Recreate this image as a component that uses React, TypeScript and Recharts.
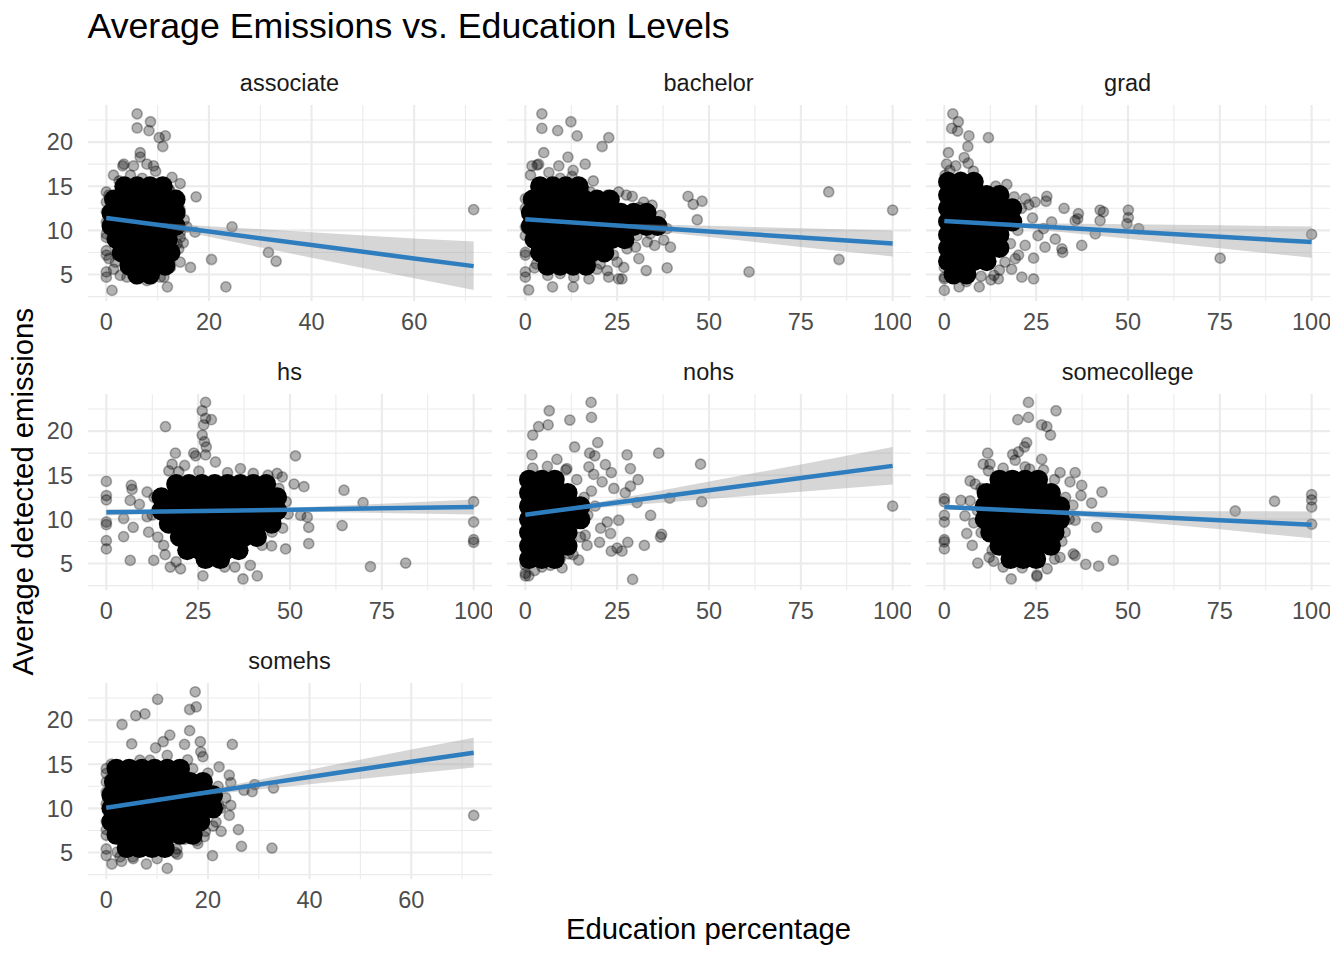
// Faceted scatter: emissions vs education share
import React from "react";
import { ComposedChart, Scatter, Line, Area, XAxis, YAxis, CartesianGrid } from "recharts";

type Pt = [number, number];
type FitRow = [number, number, number, number]; // x, fit, lower, upper

// ---- associate ----
const associatePts: Pt[] = [
  [6.0, 23.2], [8.6, 22.3], [6.0, 21.6], [8.3, 21.3], [10.3, 20.5], [11.5, 20.7], [11.0, 19.5], [6.6, 18.8],
  [6.6, 18.3], [3.4, 17.5], [3.2, 17.3], [5.3, 17.3], [7.9, 17.5], [9.2, 17.3], [9.6, 16.7], [1.4, 16.25],
  [4.7, 16.25], [7.0, 15.9], [10.8, 15.4], [14.4, 15.3], [12.3, 14.6], [17.5, 13.8], [14.0, 13.6], [14.1, 12.8],
  [0, 14.35], [0, 13.2], [0, 12.1], [15.7, 10.4], [17.3, 9.8], [24.5, 10.4], [14.4, 9.2], [14.1, 7.9],
  [0, 9.6], [0, 9.2], [0, 7.7], [0, 7.2], [0.5, 6.8], [2.1, 7.2], [0, 5.3], [0, 4.7], [1.4, 5.6], [1.1, 3.2],
  [4.0, 4.7], [5.7, 4.5], [8.9, 4.5], [10.5, 4.7], [11.9, 3.6], [12.5, 5.8], [14.4, 6.4], [16.4, 5.8],
  [20.5, 6.7], [31.6, 7.5], [33.1, 6.5], [23.3, 3.6], [71.6, 12.35],
  [12.2, 14.55], [13.8, 14.0], [14.4, 12.3], [13.8, 11.3], [13.1, 10.6], [14.4, 9.8], [13.8, 8.5], [12.5, 7.5],
  [11.5, 6.4], [2.1, 7.5], [1.1, 9.05], [0, 10.95], [0.5, 14.0], [4.0, 14.7], [9.9, 15.3], [1.75, 6.4],
  [2.7, 4.9], [7.9, 4.3], [11.2, 4.7], [2.5, 15.6], [12.8, 16.0], [15.2, 11.2], [15.0, 8.6], [0.4, 11.6],
];
const associateCore: Pt[] = [
  [3.5, 15], [6, 15], [8.5, 15], [11, 15],
  [1.5, 13.5], [4, 13.5], [6.5, 13.5], [9, 13.5], [11.5, 13.5], [13.5, 13.5],
  [1, 12], [3.5, 12], [6, 12], [8.5, 12], [11, 12], [13.5, 12],
  [1, 10.5], [3.5, 10.5], [6, 10.5], [8.5, 10.5], [11, 10.5], [13.5, 10.5],
  [2, 9], [4.5, 9], [7, 9], [9.5, 9], [12, 9],
  [3, 7.5], [5.5, 7.5], [8, 7.5], [10.5, 7.5], [12.5, 7.5],
  [4.5, 6], [7, 6], [9.5, 6], [11.5, 6],
  [6, 5], [8.5, 5],
];
const associateFit: FitRow[] = [
  [0, 11.4, 11.2, 11.6], [7, 10.87, 10.77, 10.97], [20, 9.87, 9.27, 10.47],
  [40, 8.35, 6.9, 9.8], [60, 6.82, 4.57, 9.07], [71.6, 5.95, 3.25, 8.75],
];

// ---- bachelor ----
const bachelorPts: Pt[] = [
  [4.5, 23.2], [4.5, 21.55], [8.8, 21.3], [12.4, 22.3], [14.1, 20.7], [22.7, 20.5], [20.9, 19.5], [5.0, 18.8],
  [11.6, 18.3], [3.6, 17.5], [1.8, 17.3], [9.1, 17.3], [13.0, 16.8], [16.3, 17.5], [1.4, 16.25], [6.4, 16.55],
  [9.5, 15.9], [12.7, 16.1], [14.5, 15.3], [25.4, 14.35], [29.1, 13.85], [32.2, 13.2], [34.5, 12.85], [44.3, 13.85],
  [45.7, 12.95], [48.1, 13.3], [46.8, 11.2], [82.6, 14.35], [100, 12.3], [38.6, 10.2], [39.5, 8.1], [33.2, 8.7],
  [35.2, 8.3], [37.7, 8.9], [30.4, 9.4], [27.7, 7.9], [30.9, 6.8], [32.9, 5.45], [38.6, 5.75], [26.8, 5.8],
  [25.4, 4.5], [26.3, 4.5], [22.3, 5.45], [22.7, 4.7], [17.3, 4.5], [13.2, 4.7], [13.0, 3.6], [7.4, 3.6],
  [6.1, 4.9], [9.5, 5.1], [2.5, 5.75], [0.9, 3.25], [0, 4.7], [0, 5.3], [0, 7.5], [0, 7.2], [0, 9.4], [0, 10.4],
  [0, 12.5], [0, 13.6], [60.9, 5.3], [85.4, 6.7], [3.2, 17.4], [15.9, 14.7], [17.7, 14.35], [22.3, 14.0],
  [36.8, 11.7], [36.3, 10.95], [34.5, 10.95], [28.6, 10.6], [30.0, 8.1], [25.0, 6.4], [20.4, 6.2], [19.5, 5.6],
  [18.5, 15.6], [24.0, 13.2], [27.5, 14.0], [31.0, 12.6], [34.0, 9.6], [28.0, 8.6], [24.0, 7.2], [3.0, 6.2],
];
const bachelorCore: Pt[] = [
  [4, 15], [7.5, 15], [11, 15], [14.5, 15],
  [2, 13.5], [5.5, 13.5], [9, 13.5], [12.5, 13.5], [16, 13.5], [19.5, 13.5], [23, 13.5],
  [1.5, 12], [5, 12], [8.5, 12], [12, 12], [15.5, 12], [19, 12], [22.5, 12], [26, 12], [29.5, 12], [33, 12],
  [1.5, 10.5], [5, 10.5], [8.5, 10.5], [12, 10.5], [15.5, 10.5], [19, 10.5], [22.5, 10.5], [26, 10.5], [29.5, 10.5], [33, 10.5], [36, 10.5],
  [2.5, 9], [6, 9], [9.5, 9], [13, 9], [16.5, 9], [20, 9], [23.5, 9], [27, 9],
  [4, 7.5], [7.5, 7.5], [11, 7.5], [14.5, 7.5], [18, 7.5], [21.5, 7.5],
  [6, 6], [9.5, 6], [13, 6], [16.5, 6],
];
const bachelorFit: FitRow[] = [
  [0, 11.25, 11.1, 11.4], [14, 10.86, 10.8, 10.92], [25, 10.56, 10.36, 10.76],
  [50, 9.88, 9.25, 10.51], [75, 9.19, 8.13, 10.25], [100, 8.5, 7.05, 9.98],
];

// ---- grad ----
const gradPts: Pt[] = [
  [2.3, 23.2], [3.8, 22.3], [2.0, 21.55], [3.6, 21.25], [6.7, 20.7], [12.0, 20.5], [6.4, 19.5], [1.1, 18.8],
  [5.4, 18.25], [0.6, 17.5], [3.1, 17.3], [6.5, 17.6], [7.9, 16.7], [0.2, 16.25], [4.3, 16.05], [22.0, 13.6],
  [24.7, 13.2], [27.9, 13.85], [27.7, 13.3], [32.6, 12.5], [36.5, 11.9], [36.3, 11.3], [42.4, 12.3], [43.3, 12.1],
  [42.4, 11.1], [50.1, 12.3], [50.1, 11.45], [49.7, 10.75], [52.9, 10.2], [41.1, 9.6], [37.4, 8.3], [32.0, 7.9],
  [32.2, 7.5], [30.2, 9.0], [27.4, 8.1], [27.0, 10.2], [24.3, 6.85], [24.3, 4.5], [21.1, 4.7], [19.3, 6.8],
  [18.3, 5.6], [14.7, 4.5], [12.7, 4.4], [9.5, 3.6], [4.0, 3.6], [0, 3.2], [0, 4.7], [0, 4.5], [75.1, 6.85],
  [100, 9.55], [35.6, 11.1], [29.2, 10.95], [20.2, 7.2], [22.0, 8.3], [16.5, 6.4],
  [19, 13.8], [21, 12.5], [20, 10], [18, 8.5], [15, 5.5], [10, 4.8], [0, 5.8], [1.5, 16.8], [9, 15.5], [14, 15],
  [24.0, 11.4], [25.5, 9.4], [23.0, 12.9], [17.0, 15.2], [13.5, 4.9], [6.0, 4.2],
];
const gradCore: Pt[] = [
  [1, 15.5], [4.5, 15.5], [8, 15.5],
  [1, 14], [4.5, 14], [8, 14], [11.5, 14], [15, 14],
  [1, 12.5], [4.5, 12.5], [8, 12.5], [11.5, 12.5], [15, 12.5], [18.5, 12.5],
  [1, 11], [4.5, 11], [8, 11], [11.5, 11], [15, 11], [18.5, 11],
  [1, 9.5], [4.5, 9.5], [8, 9.5], [11.5, 9.5], [15, 9.5],
  [1, 8], [4.5, 8], [8, 8], [11.5, 8], [15, 8],
  [1, 6.5], [4.5, 6.5], [8, 6.5], [11.5, 6.5],
  [2.5, 5], [6, 5],
];
const gradFit: FitRow[] = [
  [0, 11.05, 10.9, 11.2], [7, 10.88, 10.83, 10.93], [25, 10.46, 10.11, 10.81],
  [50, 9.86, 9.04, 10.68], [75, 9.27, 7.97, 10.57], [100, 8.67, 6.9, 10.45],
];

// ---- hs ----
const hsPts: Pt[] = [
  [27.0, 23.25], [26.1, 22.3], [28.6, 21.3], [27.0, 21.45], [26.5, 20.7], [16.1, 20.5], [26.1, 19.55], [26.7, 18.8],
  [27.2, 18.2], [18.8, 17.5], [23.8, 17.5], [24.3, 17.2], [27.0, 17.3], [29.7, 16.5], [17.9, 16.25], [21.3, 16.1],
  [19.7, 15.4], [25.2, 15.45], [36.5, 15.75], [51.5, 17.2], [46.5, 15.2], [47.9, 14.8], [51.1, 14.0], [53.8, 13.7],
  [64.7, 13.3], [69.9, 11.9], [100, 12.0], [100, 9.7], [100, 7.7], [100, 7.4], [0, 14.3], [0, 12.7], [0, 12.2],
  [0, 9.7], [0, 9.4], [0, 7.6], [0, 6.65], [6.8, 13.85], [7.0, 13.4], [6.5, 12.15], [4.7, 10.1], [4.7, 8.05],
  [6.5, 5.35], [7.3, 9.1], [11.1, 13.1], [11.1, 10.3], [11.5, 8.55], [17.4, 4.6], [20.2, 4.4], [26.3, 3.6],
  [32.2, 4.6], [37.2, 3.25], [41.1, 3.6], [39.2, 4.8], [48.8, 6.65], [55.1, 7.25], [55.1, 9.1], [54.7, 10.25],
  [52.9, 10.45], [64.2, 9.3], [71.9, 4.65], [81.5, 5.05], [42.4, 7.05], [45.1, 8.55], [12.9, 5.35], [15.6, 7.05],
  [13, 12.5], [12.5, 10.5], [14, 8], [16, 6], [45, 7], [48, 9], [49, 12], [47, 13.5], [40, 15.2], [17, 15.5],
  [33.0, 15.3], [44.0, 15.0], [49.5, 10.6], [19.0, 5.2], [35.0, 4.6], [9.0, 11.7],
];
const hsCore: Pt[] = [
  [19, 14], [22.5, 14], [26, 14], [29.5, 14], [33, 14], [36.5, 14], [40, 14], [43.5, 14],
  [15, 12.5], [18.5, 12.5], [22, 12.5], [25.5, 12.5], [29, 12.5], [32.5, 12.5], [36, 12.5], [39.5, 12.5], [43, 12.5], [46.5, 12.5],
  [15, 11], [18.5, 11], [22, 11], [25.5, 11], [29, 11], [32.5, 11], [36, 11], [39.5, 11], [43, 11], [46.5, 11],
  [17, 9.5], [20.5, 9.5], [24, 9.5], [27.5, 9.5], [31, 9.5], [34.5, 9.5], [38, 9.5], [41.5, 9.5], [45, 9.5],
  [20, 8], [23.5, 8], [27, 8], [30.5, 8], [34, 8], [37.5, 8], [41, 8],
  [22, 6.5], [25.5, 6.5], [29, 6.5], [32.5, 6.5], [36, 6.5],
  [27, 5.5], [31, 5.5],
];
const hsFit: FitRow[] = [
  [0, 10.8, 10.45, 11.15], [31, 10.99, 10.94, 11.04], [50, 11.1, 10.88, 11.32],
  [75, 11.25, 10.73, 11.77], [100, 11.4, 10.55, 12.25],
];

// ---- nohs ----
const nohsPts: Pt[] = [
  [17.9, 23.25], [6.5, 22.3], [18.0, 21.55], [12.1, 21.25], [3.6, 20.5], [6.2, 20.7], [2.0, 19.55], [13.4, 18.2],
  [19.7, 18.7], [17.5, 17.5], [18.9, 17.2], [27.7, 17.3], [36.3, 17.5], [47.7, 16.25], [1.8, 17.3], [8.6, 16.8],
  [11.3, 15.75], [17.3, 15.95], [21.8, 16.2], [23.4, 15.3], [28.6, 15.75], [18.6, 15.1], [20.9, 14.25], [30.7, 14.5],
  [28.6, 13.75], [24.1, 13.5], [27.2, 13.0], [30.4, 11.9], [39.3, 12.4], [48.0, 12.0], [100, 11.5], [34.1, 10.45],
  [25.4, 9.9], [22.3, 9.7], [23.2, 8.4], [37.1, 8.3], [36.8, 8.0], [27.9, 7.4], [32.4, 7.05], [25.0, 6.75],
  [23.4, 6.4], [26.3, 6.4], [29.2, 3.2], [20.2, 7.4], [16.8, 7.05], [9.5, 5.5], [6.8, 4.8], [4.5, 4.6],
  [0, 3.6], [0.9, 3.6], [0, 4.8], [11.8, 6.1], [16.3, 8.2],
  [14, 14.5], [16, 12.5], [17, 10.5], [15, 8], [13, 6], [10, 4.5], [0, 3.9], [2, 15.8], [6, 16],
  [19.0, 11.5], [20.5, 9.0], [18.0, 13.2], [11.0, 15.6], [14.5, 5.4], [2.5, 4.2],
];
const nohsCore: Pt[] = [
  [1, 14.5], [4.5, 14.5], [8, 14.5],
  [1, 13], [4.5, 13], [8, 13], [11.5, 13],
  [1, 11.5], [4.5, 11.5], [8, 11.5], [11.5, 11.5], [15, 11.5],
  [1, 10], [4.5, 10], [8, 10], [11.5, 10], [15, 10],
  [1, 8.5], [4.5, 8.5], [8, 8.5], [11.5, 8.5],
  [1, 7], [4.5, 7], [8, 7], [11.5, 7],
  [1, 5.5], [4.5, 5.5], [8, 5.5],
];
const nohsFit: FitRow[] = [
  [0, 10.53, 10.38, 10.68], [6, 10.86, 10.81, 10.91], [25, 11.91, 11.49, 12.33],
  [50, 13.3, 12.32, 14.28], [75, 14.68, 13.14, 16.22], [100, 16.06, 13.95, 18.2],
];

// ---- somecollege ----
const somecollegePts: Pt[] = [
  [22.9, 23.25], [30.4, 22.3], [20.0, 21.3], [22.9, 21.55], [26.5, 20.7], [27.9, 20.5], [28.9, 19.55], [22.4, 18.7],
  [21.8, 18.2], [11.8, 17.5], [10.6, 16.25], [12.4, 16.25], [18.6, 17.35], [20.2, 17.65], [19.3, 16.7], [26.5, 16.8],
  [22.0, 15.95], [23.2, 15.7], [31.5, 15.3], [35.6, 15.3], [34.2, 14.25], [37.4, 13.85], [37.2, 12.7], [42.9, 13.1],
  [40.1, 11.85], [41.5, 9.1], [7.0, 14.35], [8.4, 14.0], [4.5, 12.15], [7.0, 12.1], [5.6, 10.4], [6.1, 8.4],
  [7.6, 7.05], [9.1, 5.05], [12.2, 5.7], [13.4, 5.25], [18.2, 3.25], [21.2, 4.5], [25.2, 3.7], [25.2, 3.55],
  [31.5, 5.7], [35.1, 6.1], [35.6, 5.9], [38.5, 4.9], [42.0, 4.7], [46.0, 5.35], [35.6, 9.9], [32.9, 8.55],
  [0, 12.35], [0, 12.0], [0, 10.45], [0, 9.7], [0, 7.7], [0, 7.45], [0, 6.65], [79.2, 10.95], [89.9, 12.05],
  [100, 12.8], [100, 12.2], [100, 11.4], [100, 9.45],
  [10, 13.5], [9, 11], [10, 8.5], [13, 6.5], [30, 5.5], [32, 7.5], [34, 10], [33, 12.5], [30, 14.5], [12, 15.5],
  [27.0, 15.6], [16.0, 15.8], [35.0, 11.6], [8.0, 9.6], [16.0, 4.6], [28.0, 4.4],
];
const somecollegeCore: Pt[] = [
  [15, 14.5], [18.5, 14.5], [22, 14.5], [25.5, 14.5],
  [11.5, 13], [15, 13], [18.5, 13], [22, 13], [25.5, 13], [29, 13],
  [11, 11.5], [14.5, 11.5], [18, 11.5], [21.5, 11.5], [25, 11.5], [28.5, 11.5], [31.5, 11.5],
  [11, 10], [14.5, 10], [18, 10], [21.5, 10], [25, 10], [28.5, 10], [31.5, 10],
  [12.5, 8.5], [16, 8.5], [19.5, 8.5], [23, 8.5], [26.5, 8.5], [30, 8.5],
  [15, 7], [18.5, 7], [22, 7], [25.5, 7], [29, 7],
  [18, 5.5], [21.5, 5.5], [25, 5.5],
];
const somecollegeFit: FitRow[] = [
  [0, 11.4, 11.1, 11.7], [20, 11.0, 10.95, 11.05], [50, 10.4, 9.84, 10.96],
  [75, 9.9, 8.87, 10.93], [100, 9.4, 7.85, 10.9],
];

// ---- somehs ----
const somehsPts: Pt[] = [
  [17.5, 23.2], [10.1, 22.35], [16.4, 21.2], [17.7, 21.5], [5.8, 20.5], [7.6, 20.7], [3.1, 19.5], [12.5, 18.3],
  [11.2, 17.55], [5.0, 17.3], [9.7, 16.85], [15.4, 17.25], [16.4, 18.8], [18.5, 17.55], [24.8, 17.25], [12.0, 16.0],
  [18.6, 16.4], [19.0, 15.85], [6.6, 15.45], [8.6, 15.45], [22.2, 14.7], [24.2, 13.75], [27.1, 12.05], [28.7, 11.9],
  [29.2, 12.7], [32.9, 12.3], [72.3, 9.2], [24.5, 10.35], [24.2, 9.2], [22.2, 10.25], [21.6, 8.45], [22.6, 7.4],
  [26.0, 7.6], [19.3, 6.8], [17.8, 6.35], [15.4, 6.5], [18.6, 8.8], [26.6, 5.7], [32.6, 5.5], [20.9, 4.65],
  [13.9, 5.4], [13.6, 5.0], [12.0, 3.2], [7.9, 3.7], [5.2, 4.5], [5.3, 4.3], [1.1, 3.7], [0, 4.65], [0, 5.4],
  [0, 7.6], [0, 6.95], [0, 14.5], [0, 13.95], [0, 13.0], [0, 11.85], [2.1, 5.05], [2.7, 4.5],
  [17, 14.5], [22, 12.5], [22.5, 10], [21, 8], [18, 6], [14, 4.8], [1, 15], [3, 4], [0, 8.5], [0, 10.5],
  [20.0, 14.0], [23.5, 11.2], [24.5, 12.9], [16.0, 15.5], [10.0, 4.3], [19.5, 7.4],
];
const somehsCore: Pt[] = [
  [2, 14.5], [4.5, 14.5], [7, 14.5], [9.5, 14.5], [12, 14.5], [14.5, 14.5],
  [1.5, 13], [4, 13], [6.5, 13], [9, 13], [11.5, 13], [14, 13], [16.5, 13], [19, 13],
  [1, 11.5], [3.5, 11.5], [6, 11.5], [8.5, 11.5], [11, 11.5], [13.5, 11.5], [16, 11.5], [18.5, 11.5], [21, 11.5],
  [1, 10], [3.5, 10], [6, 10], [8.5, 10], [11, 10], [13.5, 10], [16, 10], [18.5, 10], [21, 10],
  [1, 8.5], [3.5, 8.5], [6, 8.5], [8.5, 8.5], [11, 8.5], [13.5, 8.5], [16, 8.5], [18.5, 8.5],
  [2, 7], [4.5, 7], [7, 7], [9.5, 7], [12, 7], [14.5, 7], [17, 7],
  [4, 5.5], [6.5, 5.5], [9, 5.5], [11.5, 5.5],
];
const somehsFit: FitRow[] = [
  [0, 10.08, 9.93, 10.23], [10, 10.95, 10.9, 11.0], [20, 11.82, 11.55, 12.09],
  [40, 13.56, 12.74, 14.38], [60, 15.29, 13.92, 16.66], [72.3, 16.3, 14.62, 17.99],
];

// axis ticks
const yTicks = [5, 10, 15, 20];
const yMinor = [2.5, 7.5, 12.5, 17.5, 22.5];
const xTicks20 = [0, 20, 40, 60];
const xMinor20 = [10, 30, 50, 70];
const xTicks25 = [0, 25, 50, 75, 100];
const xMinor25 = [12.5, 37.5, 62.5, 87.5];

const FONT = '"Liberation Sans", Arial, Helvetica, sans-serif';
const PANEL_W = 404;
const PANEL_H = 196;
const Y_AXIS_W = 60;
const X_AXIS_H = 40;
const colLeft = [87.5, 506.6, 925.6];
const rowTop = [105, 394, 683];

interface PanelSpec {
  label: string;
  col: number;
  row: number;
  pts: Pt[];
  core: Pt[];
  fit: FitRow[];
  xDomain: [number, number];
  xTicks: number[];
  xMinor: number[];
}

const panels: PanelSpec[] = [
  { label: "associate", col: 0, row: 0, pts: associatePts, core: associateCore, fit: associateFit, xDomain: [-3.58, 75.18], xTicks: xTicks20, xMinor: xMinor20 },
  { label: "bachelor", col: 1, row: 0, pts: bachelorPts, core: bachelorCore, fit: bachelorFit, xDomain: [-5, 105], xTicks: xTicks25, xMinor: xMinor25 },
  { label: "grad", col: 2, row: 0, pts: gradPts, core: gradCore, fit: gradFit, xDomain: [-5, 105], xTicks: xTicks25, xMinor: xMinor25 },
  { label: "hs", col: 0, row: 1, pts: hsPts, core: hsCore, fit: hsFit, xDomain: [-5, 105], xTicks: xTicks25, xMinor: xMinor25 },
  { label: "nohs", col: 1, row: 1, pts: nohsPts, core: nohsCore, fit: nohsFit, xDomain: [-5, 105], xTicks: xTicks25, xMinor: xMinor25 },
  { label: "somecollege", col: 2, row: 1, pts: somecollegePts, core: somecollegeCore, fit: somecollegeFit, xDomain: [-5, 105], xTicks: xTicks25, xMinor: xMinor25 },
  { label: "somehs", col: 0, row: 2, pts: somehsPts, core: somehsCore, fit: somehsFit, xDomain: [-3.6, 75.9], xTicks: xTicks20, xMinor: xMinor20 },
];

const renderPoint = (props: any) => (
  <circle cx={props.cx} cy={props.cy} r={5.1} fill="#000" fillOpacity={0.3} stroke="#000" strokeOpacity={0.3} strokeWidth={1.6} />
);
const renderCore = (props: any) => (
  <circle cx={props.cx} cy={props.cy} r={10} fill="#000" />
);

const tickStyle = { fill: "#4D4D4D", fontSize: 23.5, fontFamily: FONT };

const FacetPanel = ({ spec }: { spec: PanelSpec }) => {
  const showY = spec.col === 0;
  const left = colLeft[spec.col] - (showY ? Y_AXIS_W : 0);
  const width = PANEL_W + (showY ? Y_AXIS_W : 0);
  const rows = spec.fit.map(([x, fit, lo, hi]) => ({ x, fit, band: [lo, hi] }));
  const pts = spec.pts.map(([x, y]) => ({ x, y }));
  const core = spec.core.map(([x, y]) => ({ x, y }));
  return (
    <div style={{ position: "absolute", left, top: rowTop[spec.row] }}>
      <ComposedChart width={width} height={PANEL_H + X_AXIS_H} data={rows} margin={{ top: 0, right: 0, bottom: 0, left: 0 }}>
        <CartesianGrid horizontalValues={yMinor} verticalValues={spec.xMinor} stroke="#EBEBEB" strokeWidth={1.1} />
        <CartesianGrid horizontalValues={yTicks} verticalValues={spec.xTicks} stroke="#EBEBEB" strokeWidth={2.1} />
        <XAxis
          type="number"
          dataKey="x"
          domain={spec.xDomain}
          ticks={spec.xTicks}
          allowDataOverflow
          interval={0}
          axisLine={false}
          tickLine={false}
          tickSize={0}
          tickMargin={12}
          height={X_AXIS_H}
          tick={tickStyle}
        />
        <YAxis
          type="number"
          domain={[2, 24.2]}
          ticks={yTicks}
          allowDataOverflow
          interval={0}
          hide={!showY}
          width={Y_AXIS_W}
          axisLine={false}
          tickLine={false}
          tickSize={0}
          tickMargin={15}
          tick={tickStyle}
        />
        <Scatter data={core} dataKey="y" shape={renderCore} isAnimationActive={false} zIndex={50} />
        <Scatter data={pts} dataKey="y" shape={renderPoint} isAnimationActive={false} zIndex={60} />
        <Area dataKey="band" type="linear" stroke="none" fill="#999999" fillOpacity={0.4} isAnimationActive={false} zIndex={300} />
        <Line dataKey="fit" type="linear" stroke="#2E7EBF" strokeWidth={4.5} dot={false} activeDot={false} isAnimationActive={false} zIndex={400} />
      </ComposedChart>
    </div>
  );
};

const App: React.FC = () => {
  return (
    <div style={{ position: "absolute", left: 0, top: 0, width: 1344, height: 960, background: "#fff", fontFamily: FONT, overflow: "hidden" }}>
      {panels.map((p) => (
        <FacetPanel key={p.label} spec={p} />
      ))}
      <svg width={1344} height={960} style={{ position: "absolute", left: 0, top: 0, pointerEvents: "none" }}>
        <text x={87.5} y={37.5} fontSize={35.7} fill="#000" fontFamily={FONT}>
          Average Emissions vs. Education Levels
        </text>
        {panels.map((p) => (
          <text key={p.label} x={colLeft[p.col] + PANEL_W / 2} y={91 + p.row * 289} fontSize={23.5} fill="#1A1A1A" textAnchor="middle" fontFamily={FONT}>
            {p.label}
          </text>
        ))}
        <text x={708.5} y={939} fontSize={29.3} fill="#000" textAnchor="middle" fontFamily={FONT}>
          Education percentage
        </text>
        <text transform="translate(33.3, 491.7) rotate(-90)" fontSize={29.3} fill="#000" textAnchor="middle" fontFamily={FONT}>
          Average detected emissions
        </text>
      </svg>
    </div>
  );
};

export default App;
